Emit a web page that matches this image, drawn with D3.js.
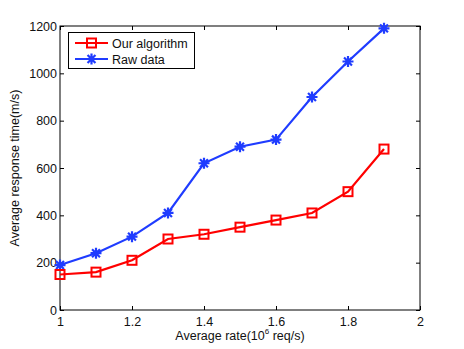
<!DOCTYPE html>
<html>
<head>
<meta charset="utf-8">
<script src="https://cdn.jsdelivr.net/npm/d3@7"></script>
<style>
body { margin: 0; background: #fff; }
svg { font-family: "Liberation Sans", Arial, sans-serif; }
</style>
</head>
<body>
<svg width="464" height="349"></svg>
<script>
// Average response time vs. average rate

var rates = [1.0, 1.1, 1.2, 1.3, 1.4, 1.5, 1.6, 1.7, 1.8, 1.9];
var ourAlgorithm = [150, 160, 210, 300, 320, 350, 380, 410, 500, 680];
var rawData = [190, 240, 310, 410, 620, 690, 720, 900, 1050, 1190];
var xTicks = [1, 1.2, 1.4, 1.6, 1.8, 2];
var yTicks = [0, 200, 400, 600, 800, 1000, 1200];

var red = "#ff0000", blue = "#1f3cff";

function draw(){
	var svg = d3.select("svg");
	var left = 60, right = 420, top = 26, bottom = 310;

	var x = d3.scaleLinear().domain([1, 2]).range([left, right]);
	var y = d3.scaleLinear().domain([0, 1200]).range([bottom, top]);

	// box
	svg.append("rect")
		.attr("x", left).attr("y", top)
		.attr("width", right - left).attr("height", bottom - top)
		.attr("fill", "none").attr("stroke", "#000").attr("stroke-width", 1);

	// inward ticks on all four sides
	var fmt = d => String(d);
	svg.append("g").attr("transform", "translate(0," + bottom + ")")
		.call(d3.axisBottom(x).tickValues(xTicks).tickSizeInner(-4).tickSizeOuter(0).tickPadding(7).tickFormat(fmt));
	svg.append("g").attr("transform", "translate(0," + top + ")")
		.call(d3.axisTop(x).tickValues(xTicks).tickSizeInner(-4).tickSizeOuter(0).tickFormat(""));
	svg.append("g").attr("transform", "translate(" + left + ",0)")
		.call(d3.axisLeft(y).tickValues(yTicks).tickSizeInner(-4).tickSizeOuter(0).tickPadding(3).tickFormat(fmt));
	svg.append("g").attr("transform", "translate(" + right + ",0)")
		.call(d3.axisRight(y).tickValues(yTicks).tickSizeInner(-4).tickSizeOuter(0).tickFormat(""));

	svg.selectAll(".domain").remove();
	svg.selectAll(".tick text").attr("font-size", 12.5).attr("fill", "#111").attr("font-family", null);
	svg.selectAll(".tick line").attr("stroke", "#000");

	// axis labels
	var xl = svg.append("text")
		.attr("x", (left + right) / 2).attr("y", 340)
		.attr("text-anchor", "middle").attr("font-size", 12.5).attr("fill", "#111");
	xl.append("tspan").text("Average rate(10");
	xl.append("tspan").text("6").attr("font-size", 8).attr("dy", -6);
	xl.append("tspan").text(" req/s)").attr("dy", 6);

	svg.append("text")
		.attr("transform", "translate(19," + (top + bottom) / 2 + ") rotate(-90)")
		.attr("text-anchor", "middle").attr("font-size", 12.5).attr("fill", "#111")
		.text("Average response time(m/s)");

	var line = d3.line().x((d, i) => x(rates[i])).y(d => y(d));

	function square(g, cx, cy, color){
		g.append("rect")
			.attr("x", cx - 4.5).attr("y", cy - 4.5)
			.attr("width", 9).attr("height", 9)
			.attr("fill", "none").attr("stroke", color).attr("stroke-width", 2);
	}
	function star(g, cx, cy, color){
		var r = 5.5, d = r * 0.72;
		var p = "M" + (cx - r) + "," + cy + "h" + 2 * r +
			"M" + cx + "," + (cy - r) + "v" + 2 * r +
			"M" + (cx - d) + "," + (cy - d) + "l" + 2 * d + "," + 2 * d +
			"M" + (cx - d) + "," + (cy + d) + "l" + 2 * d + "," + (-2 * d);
		g.append("path").attr("d", p).attr("stroke", color).attr("stroke-width", 2.2).attr("fill", "none");
	}

	var series = [
		{name: "Raw data", values: rawData, color: blue, mark: star},
		{name: "Our algorithm", values: ourAlgorithm, color: red, mark: square}
	];

	series.forEach(s => {
		svg.append("path")
			.attr("d", line(s.values))
			.attr("fill", "none").attr("stroke", s.color).attr("stroke-width", 2.2);
		var g = svg.append("g");
		s.values.forEach((v, i) => s.mark(g, x(rates[i]), y(v), s.color));
	});

	// legend
	var lg = svg.append("g");
	lg.append("rect")
		.attr("x", 68.5).attr("y", 32.5).attr("width", 126).attr("height", 36)
		.attr("fill", "#fff").attr("stroke", "#000").attr("stroke-width", 1);
	series.slice().reverse().forEach((s, i) => {
		var ly = 43 + i * 16;
		lg.append("line").attr("x1", 75).attr("x2", 108).attr("y1", ly).attr("y2", ly)
			.attr("stroke", s.color).attr("stroke-width", 2.2);
		s.mark(lg, 91.5, ly, s.color);
		lg.append("text").attr("x", 112).attr("y", ly + 4.5)
			.attr("font-size", 12.5).attr("fill", "#111").text(s.name);
	});
}

draw();
</script>
</body>
</html>
